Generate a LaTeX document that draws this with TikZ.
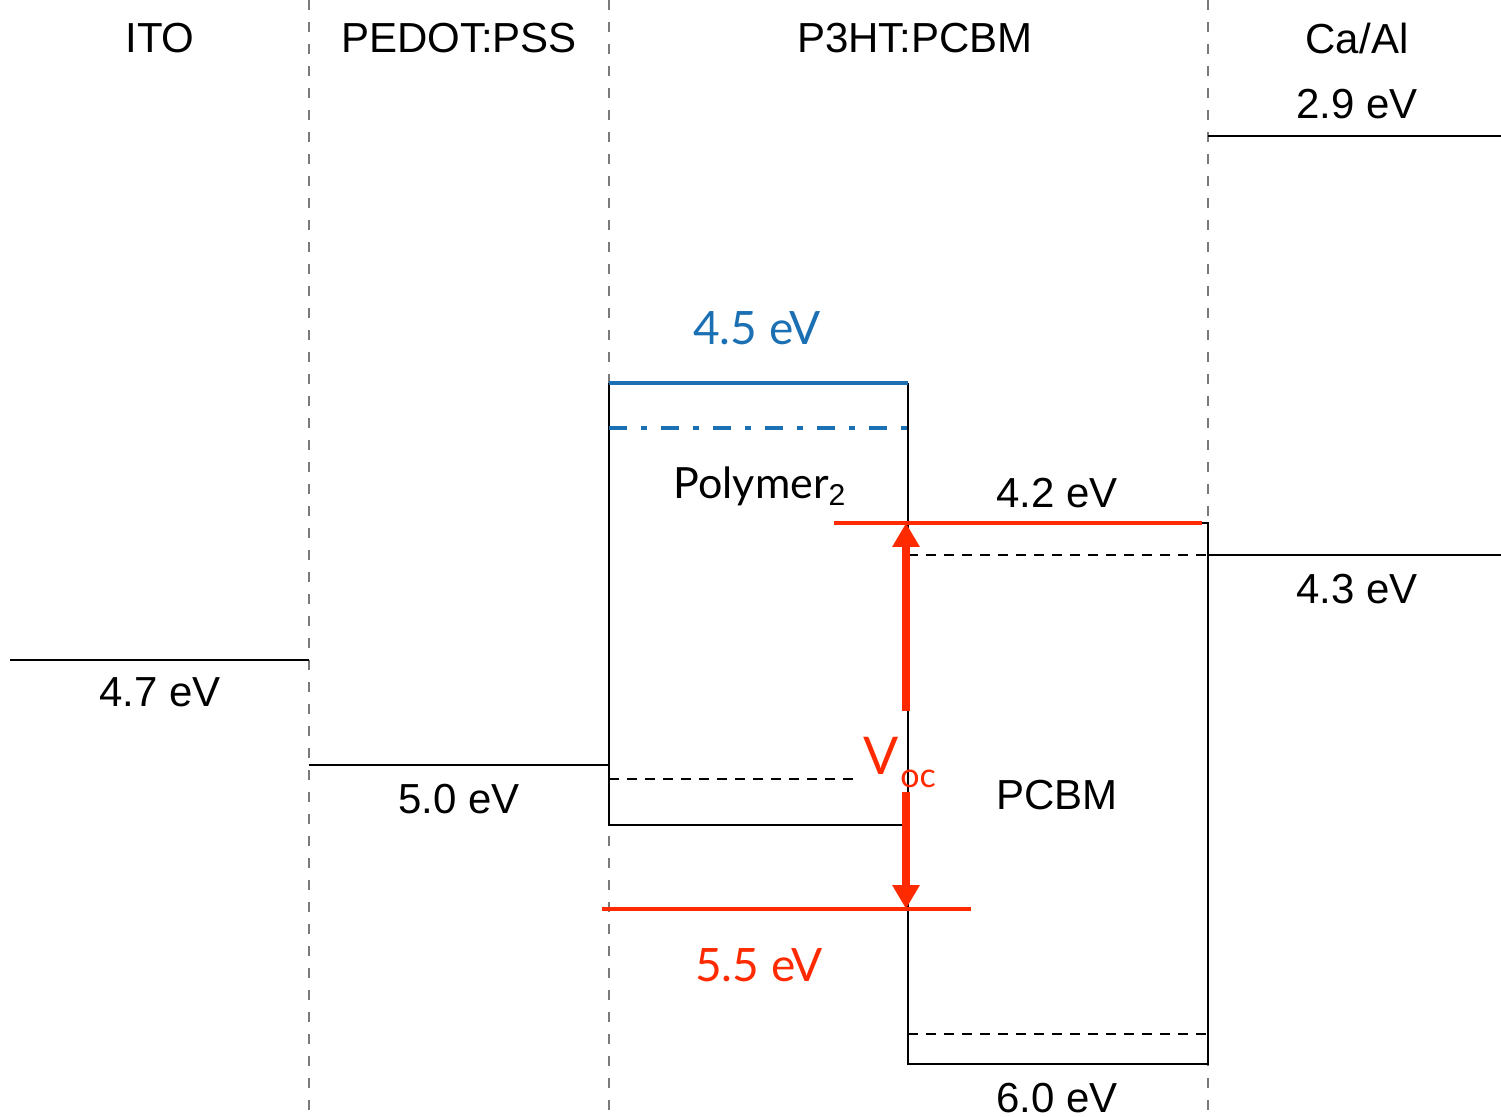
\documentclass[tikz,border=0pt]{standalone}
\usepackage{fontspec}
\setmainfont{Liberation Sans}
\newfontfamily\gillfont{Lato}
\usetikzlibrary{arrows.meta}
\definecolor{lvred}{HTML}{FF2A00}
\definecolor{lvblue}{HTML}{1B6FB3}
\definecolor{lvgray}{HTML}{7A7A7A}
\begin{document}
\begin{tikzpicture}[x=0.5pt,y=-0.5pt,
  every node/.style={font=\fontsize{21}{25}\selectfont, inner sep=0pt},
  sep/.style={draw=lvgray, line width=1.1pt, dash pattern=on 5pt off 6pt},
  level/.style={draw=black, line width=1.2pt},
  sublevel/.style={draw=black, line width=1.2pt, dash pattern=on 5pt off 4pt},
  bluelevel/.style={draw=lvblue, line width=2pt},
  bluedash/.style={draw=lvblue, line width=1.8pt, dash pattern=on 9pt off 7pt on 3pt off 7pt},
  redlevel/.style={draw=lvred, line width=1.8pt},
  vocarrow/.style={draw=lvred, line width=4pt, -{Triangle[width=13pt,length=12pt]}},
  gill/.style={font=\gillfont\fontsize{23}{27}\selectfont}]
\useasboundingbox (0,0) rectangle (1501,1117);

% separators
\coordinate (s1t) at (309,0);   \coordinate (s1b) at (309,1117);
\coordinate (s2t) at (609,0);   \coordinate (s2b) at (609,1117);
\coordinate (s3t) at (1208,0);  \coordinate (s3b) at (1208,1117);
\draw[sep] (s1t) -- (s1b);
\draw[sep] (s2t) -- (s2b);
\draw[sep] (s3t) -- (s3b);

% headers
\node (hITO) at (160,38) {ITO};
\node (hPED) at (459,38) {PEDOT:PSS};
\node (hP3) at (915,38) {P3HT:PCBM};
\node (hCa) at (1357,38) {Ca/Al};

% ITO
\coordinate (itoL) at (10,660); \coordinate (itoR) at (309,660);
\draw[level] (itoL) -- (itoR);
\node (lITO) at (160,692) {4.7 eV};

% PEDOT
\coordinate (pedL) at (309,765); \coordinate (pedR) at (609,765);
\draw[level] (pedL) -- (pedR);
\node (lPED) at (459,799) {5.0 eV};

% Ca/Al
\coordinate (ca1L) at (1208,136); \coordinate (ca1R) at (1501,136);
\draw[level] (ca1L) -- (ca1R);
\node (lCa1) at (1357,104) {2.9 eV};
\coordinate (ca2L) at (1208,555); \coordinate (ca2R) at (1501,555);
\draw[level] (ca2L) -- (ca2R);
\node (lCa2) at (1357,589) {4.3 eV};

% Polymer box
\coordinate (poTL) at (609,383); \coordinate (poTR) at (908,383);
\coordinate (poBL) at (609,825); \coordinate (poBR) at (908,825);
\coordinate (poRm) at (908,523);
\draw[level] (poRm) -- (poTR);
\draw[level] (poTL) -- (poBL) -- (poBR);
\draw[bluelevel] (poTL) -- (poTR);
\coordinate (bdL) at (609,428); \coordinate (bdR) at (908,428);
\draw[bluedash] (bdL) -- (bdR);
\coordinate (pdL) at (609,779); \coordinate (pdR) at (855,779);
\draw[sublevel] (pdL) -- (pdR);
\node[gill, text=lvblue] (lBlue) at (757,328) {4.5 eV};
\node[gill, anchor=base, font=\gillfont\fontsize{21.5}{25}\selectfont] (lPoly) at (760,499) {Polymer$_{\mathrm{2}}$};

% PCBM box
\coordinate (pcTL) at (908,523); \coordinate (pcTR) at (1208,523);
\coordinate (pcBL) at (908,1064); \coordinate (pcBR) at (1208,1064);
\draw[level] (pcTL) -- (pcTR) -- (pcBR) -- (pcBL) -- (pcTL);
\coordinate (cdL) at (908,555); \coordinate (cdR) at (1208,555);
\draw[sublevel] (cdL) -- (cdR);
\coordinate (cd2L) at (908,1034); \coordinate (cd2R) at (1208,1034);
\draw[sublevel] (cd2L) -- (cd2R);
\node (lPCBM) at (1057,795) {PCBM};
\node (l60) at (1057,1098) {6.0 eV};

% red levels
\coordinate (r1L) at (834,523); \coordinate (r1R) at (1202,523);
\draw[redlevel] (r1L) -- (r1R);
\node (l42) at (1057,493) {4.2 eV};
\coordinate (r2L) at (602,909); \coordinate (r2R) at (971,909);
\draw[redlevel] (r2L) -- (r2R);
\node[gill, text=lvred] (l55) at (759,965) {5.5 eV};

% Voc arrows
\coordinate (aUp0) at (906,711); \coordinate (aUp1) at (906,523);
\coordinate (aDn0) at (906,792); \coordinate (aDn1) at (906,909);
\draw[vocarrow] (aUp0) -- (aUp1);
\draw[vocarrow] (aDn0) -- (aDn1);
\node[gill, text=lvred, font=\gillfont\fontsize{26}{28}\selectfont] (lV) at (881,756) {V};
\node[gill, text=lvred, font=\gillfont\fontsize{17}{18}\selectfont] (loc) at (918,779) {oc};
\end{tikzpicture}
\end{document}
